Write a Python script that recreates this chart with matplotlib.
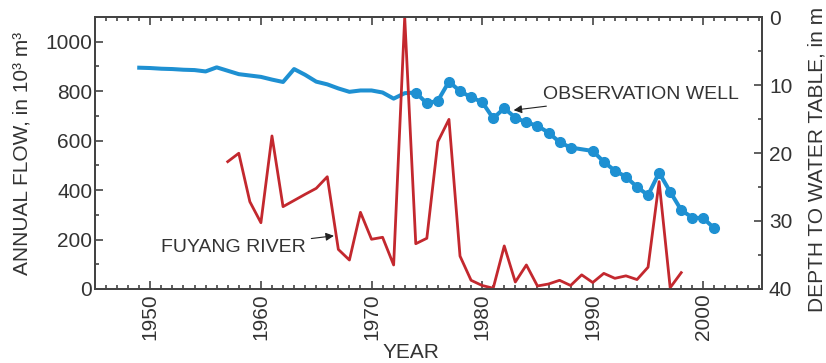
import numpy as np
import matplotlib
matplotlib.use("Agg")
import matplotlib.pyplot as plt
from matplotlib.ticker import MultipleLocator

plt.rcParams['font.family'] = ['Liberation Sans', 'DejaVu Sans']

# Fuyang River annual flow, 10^3 m^3
river_years = [1957, 1958, 1959, 1960, 1961, 1962, 1963, 1964, 1965, 1966,
               1967, 1968, 1969, 1970, 1971, 1972, 1973, 1974, 1975, 1976,
               1977, 1978, 1979, 1980, 1981, 1982, 1983, 1984, 1985, 1986,
               1987, 1988, 1989, 1990, 1991, 1992, 1993, 1994, 1995, 1996,
               1997, 1998]
river_flow = [515, 549, 353, 268, 619, 333, 358, 383, 407, 454,
              160, 117, 310, 201, 209, 97, 1100, 183, 205, 596,
              686, 133, 35, 14, 3, 174, 28, 97, 12, 20,
              35, 14, 57, 26, 63, 43, 53, 38, 88, 434,
              5, 66]

# observation well, depth to water table in m (before 1974: no markers)
well_years_early = [1949, 1950, 1951, 1952, 1953, 1954, 1955, 1956, 1957, 1958,
                    1959, 1960, 1961, 1962, 1963, 1964, 1965, 1966, 1967, 1968,
                    1969, 1970, 1971, 1972, 1973, 1974]
well_depth_early = [7.45, 7.5, 7.6, 7.65, 7.75, 7.8, 8.0, 7.4, 7.9, 8.4,
                    8.6, 8.8, 9.2, 9.55, 7.65, 8.5, 9.5, 9.9, 10.5, 11.0,
                    10.8, 10.8, 11.1, 12.0, 11.2, 11.1]
well_years = [1974, 1975, 1976, 1977, 1978, 1979, 1980, 1981, 1982, 1983,
              1984, 1985, 1986, 1987, 1988, 1990, 1991, 1992, 1993, 1994,
              1995, 1996, 1997, 1998, 1999, 2000, 2001]
well_depth = [11.1, 12.7, 12.3, 9.5, 10.9, 11.8, 12.5, 14.9, 13.4, 14.8,
              15.5, 16.0, 17.0, 18.4, 19.2, 19.7, 21.3, 22.6, 23.5, 25.0,
              26.2, 22.9, 25.7, 28.4, 29.5, 29.6, 31.1]

txt = '#333333'
blue = '#1e90d2'
red = '#c3282e'

fig = plt.figure(figsize=(8.26, 3.63), dpi=100)
ax = fig.add_axes([0.115, 0.204, 0.8075, 0.749])
ax2 = ax.twinx()
ax.set_zorder(ax2.get_zorder() + 1)
ax.patch.set_visible(False)

ax2.plot(well_years_early, well_depth_early, color=blue, lw=2.9)
ax2.plot(well_years, well_depth, color=blue, lw=2.9, marker='o', ms=7)
ax.plot(river_years, river_flow, color=red, lw=2.0)

ax.set_xlim(1945, 2005.3)
ax.set_ylim(0, 1100)
ax2.set_ylim(40, 0)

ax.xaxis.set_major_locator(MultipleLocator(10))
ax.xaxis.set_minor_locator(MultipleLocator(1))
ax.yaxis.set_major_locator(MultipleLocator(200))
ax.yaxis.set_minor_locator(MultipleLocator(100))
ax2.yaxis.set_major_locator(MultipleLocator(10))
ax2.yaxis.set_minor_locator(MultipleLocator(5))

for a in (ax, ax2):
    for s in a.spines.values():
        s.set_color('#444444')
        s.set_linewidth(1.4)
ax.tick_params(axis='both', which='both', direction='in', top=True, right=False,
               colors='#444444', labelcolor=txt, labelsize=15, width=1.2)
ax.tick_params(which='major', length=6)
ax.tick_params(which='minor', length=3)
ax.tick_params(axis='y', pad=2)
ax.tick_params(axis='x', pad=3, labelrotation=90)
ax2.tick_params(axis='y', which='both', direction='in', colors='#444444',
                labelcolor=txt, labelsize=15, width=1.2, pad=5)
ax2.tick_params(which='major', length=6)
ax2.tick_params(which='minor', length=3)

ax.set_xlabel('YEAR', fontsize=15, color=txt)
ax.xaxis.set_label_coords(0.474, -0.2)
ax.set_ylabel('ANNUAL FLOW, in 10³ m³', fontsize=15, color=txt)
ax.yaxis.set_label_coords(-0.095, 0.5)
ax2.set_ylabel('DEPTH TO WATER TABLE, in m', fontsize=15, color=txt)
ax2.yaxis.set_label_coords(1.0675, 0.478)

arrow = dict(arrowstyle='-|>', color='#222222', lw=0.8, mutation_scale=12,
             shrinkA=2, shrinkB=0)
ax.annotate('FUYANG RIVER', xy=(1966.6, 215), xytext=(1950.97, 166),
            ha='left', va='center', fontsize=14, color=txt, arrowprops=arrow)
ax2.annotate('OBSERVATION WELL', xy=(1982.85, 13.7), xytext=(1985.5, 11.4),
             ha='left', va='center', fontsize=14, color=txt, arrowprops=arrow)

fig.savefig('out.png', dpi=100)
